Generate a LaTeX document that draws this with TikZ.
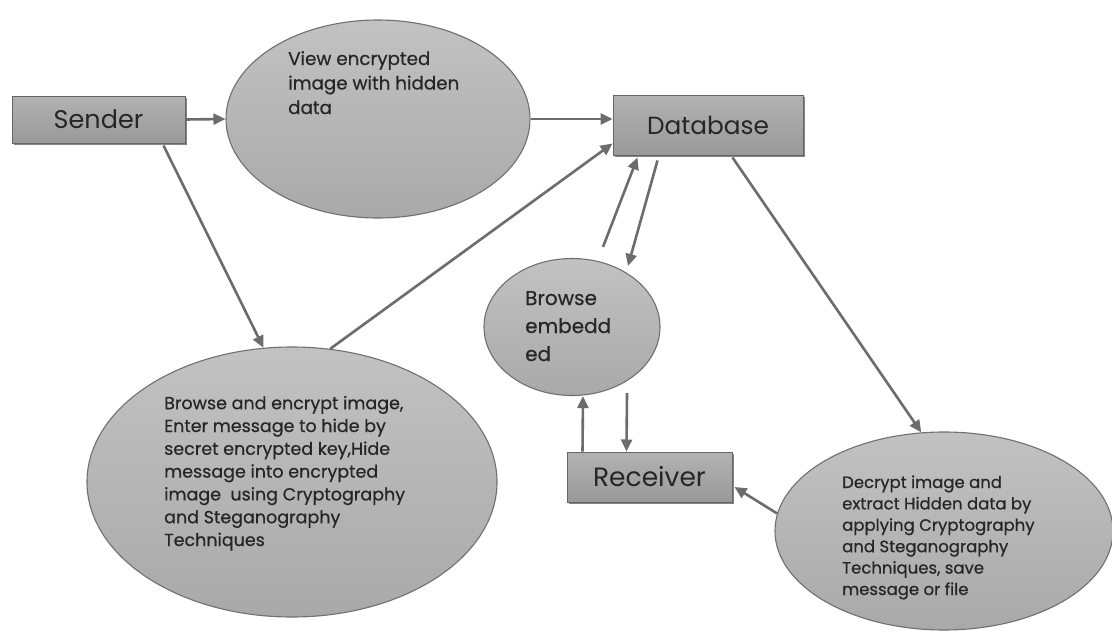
\documentclass[tikz,border=0pt]{standalone}
\usepackage{fontspec}
\setmainfont{Poppins}
\newfontfamily\heavierfont{Poppins}[FakeBold=0.5]
\usetikzlibrary{arrows.meta,shapes.geometric,shadows,calc}
\definecolor{flow}{HTML}{6C6C6C}
\definecolor{rim}{HTML}{707070}
\definecolor{ink}{HTML}{262626}
\definecolor{bubtop}{HTML}{C2C2C2}
\definecolor{bubbot}{HTML}{A9A9A9}
\definecolor{boxtop}{HTML}{B2B2B2}
\definecolor{boxbot}{HTML}{999999}
\tikzset{
  bubble/.style={ellipse, draw=rim, line width=1.1pt, top color=bubtop, bottom color=bubbot, inner sep=0pt},
  block/.style={rectangle, draw=black!60, line width=1pt, top color=boxtop, bottom color=boxbot,
                drop shadow={shadow xshift=1.5pt, shadow yshift=-2pt, fill=black!60, opacity=0.8},
                text=ink, inner sep=0pt},
  note/.style={align=left, text=ink, inner sep=0pt, anchor=base west},
  flowline/.style={draw=flow, line width=2.6pt, -{Triangle[length=12pt,width=11pt]}}
}
\begin{document}
\begin{tikzpicture}[x=1pt,y=-1pt]
\useasboundingbox[fill=white] (0,0) rectangle (1112,638);

% process bubbles
\node[bubble, minimum width=304, minimum height=198] (view) at (378,119) {};
\node[bubble, minimum width=410, minimum height=270] (hide) at (292,482) {};
\node[bubble, minimum width=176, minimum height=137] (browse) at (572,327) {};
\node[bubble, minimum width=338, minimum height=198] (extract) at (944,531) {};

% bubble texts (placed by the baseline of their last line)
\node[note, font=\heavierfont\fontsize{18.3}{24.5}\selectfont] (viewtext) at (288,114)
  {View encrypted\\image with hidden\\data};
\node[note, font=\heavierfont\fontsize{17.5}{22.8}\selectfont] (hidetext) at (164,546)
  {Browse and encrypt image,\\Enter message to hide by\\secret encrypted key,Hide\\message into encrypted\\image\ \ using Cryptography\\and Steganography\\Techniques};
\node[note, font=\heavierfont\fontsize{20}{28}\selectfont] (browsetext) at (525,361)
  {Browse\\embedd\\ed};
\node[note, font=\heavierfont\fontsize{16.5}{21.4}\selectfont] (extracttext) at (842,595)
  {Decrypt image and\\extract Hidden data by\\applying Cryptography\\and Steganography\\Techniques, save\\message or file};

% actors and store
\node[block, font=\fontsize{25.5}{30}\selectfont, minimum width=173, minimum height=47] (sender) at (98.5,119.5) {Sender};
\node[block, font=\fontsize{24.8}{30}\selectfont, minimum width=190, minimum height=60] (db) at (708,125) {Database};
\node[block, font=\fontsize{26.5}{30}\selectfont, minimum width=165, minimum height=50] (rec) at (649.5,477) {Receiver};

% connectors
\draw[flowline] (sender.east) -- (view.west);
\draw[flowline] (view.east) -- (view.east -| db.west);
\draw[flowline] ($(sender.south west)+(152,2)$) -- (hide.102);
\draw[flowline] (hide.74) -- ($(db.south west)+(0,-12)$);
\draw[flowline] ($(browse.north)+(31,-11)$) -- ($(db.south west)+(25,2)$);
\draw[flowline] ($(db.south west)+(45,5)$) -- ($(browse.north)+(56,8)$);
\draw[flowline] ($(rec.north west)+(16,0)$) -- ($(browse.south)+(11,0)$);
\draw[flowline] ($(browse.south)+(55,-3)$) -- ($(rec.north west)+(60,0)$);
\draw[flowline] ($(db.south west)+(120,2)$) -- (extract.103);
\draw[flowline] (extract.174) -- ($(rec.east)+(2,10)$);
\end{tikzpicture}
\end{document}
